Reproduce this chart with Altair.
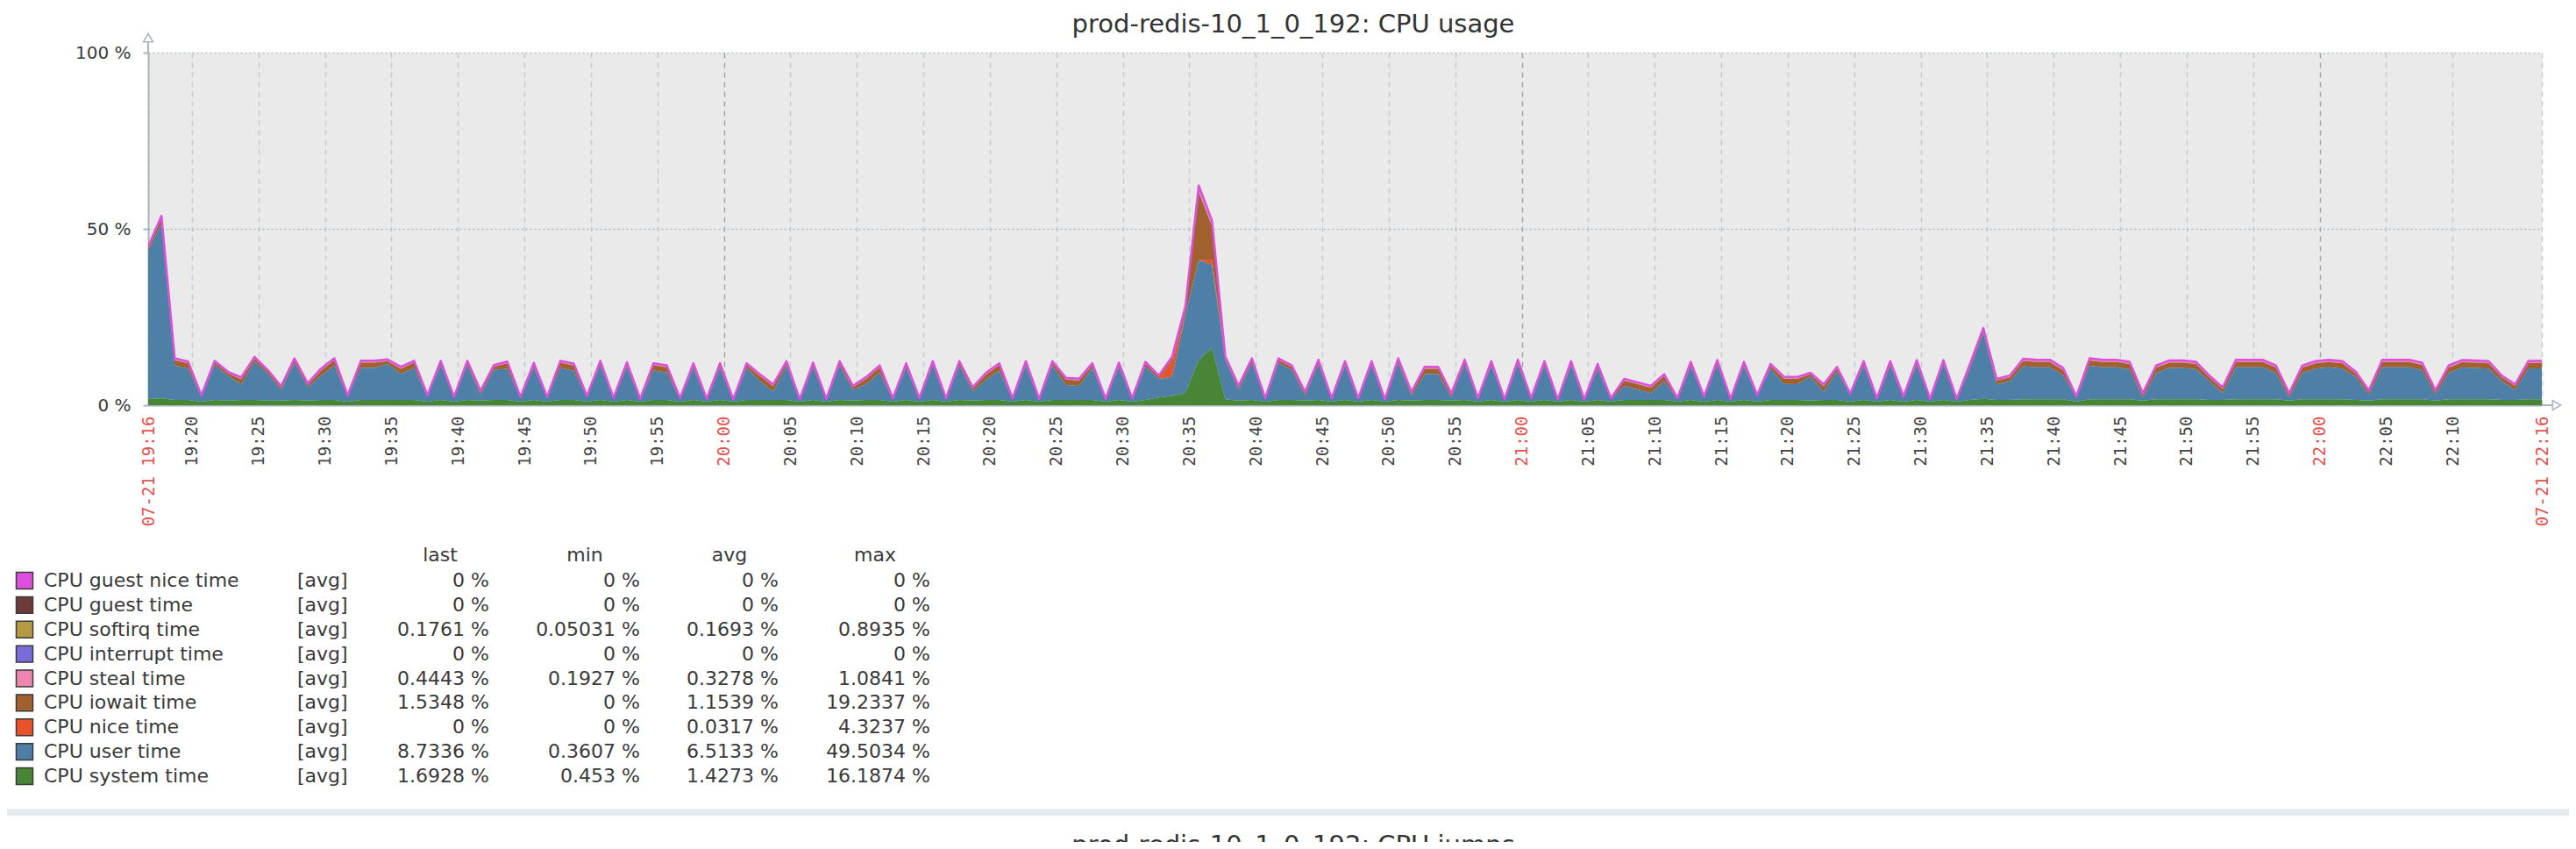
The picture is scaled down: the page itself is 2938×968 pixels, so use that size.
import altair as alt
import pandas as pd

TITLE = "prod-redis-10_1_0_192: CPU usage"
NEXT_TITLE = "prod-redis-10_1_0_192: CPU jumps"

# legend / series order as listed in the reference (top to bottom)
series_names = ["CPU guest nice time", "CPU guest time", "CPU softirq time", "CPU interrupt time",
                "CPU steal time", "CPU iowait time", "CPU nice time", "CPU user time", "CPU system time"]
series_colors = ["#DD4FDD", "#6E3A3A", "#B49A42", "#7A6BDB", "#EE86B0", "#A0612F", "#E8532B", "#4E7FA7", "#488536"]
stack_rank = [8, 7, 6, 5, 4, 3, 2, 1, 0]   # 0 = bottom of stack

legend_func = "[avg]"
legend_last = ["0 %", "0 %", "0.1761 %", "0 %", "0.4443 %", "1.5348 %", "0 %", "8.7336 %", "1.6928 %"]
legend_min = ["0 %", "0 %", "0.05031 %", "0 %", "0.1927 %", "0 %", "0 %", "0.3607 %", "0.453 %"]
legend_avg = ["0 %", "0 %", "0.1693 %", "0 %", "0.3278 %", "1.1539 %", "0.0317 %", "6.5133 %", "1.4273 %"]
legend_max = ["0 %", "0 %", "0.8935 %", "0 %", "1.0841 %", "19.2337 %", "4.3237 %", "49.5034 %", "16.1874 %"]
legend_headers = ["last", "min", "avg", "max"]

# time window: minutes after 19:00 (19:16:43 .. 22:16:43), one sample per minute
START = 16.71
END = 196.71
N = 181
sample_minutes = [START + k for k in range(N)]

y_ticks = [0, 50, 100]
x_ticks = [START] + list(range(20, 195, 5)) + [END]

system = [
    1.8, 1.9, 1.5, 1.5, 1.0, 1.5, 1.3, 1.5, 1.5, 1.3,
    1.3, 1.5, 1.3, 1.5, 1.5, 1.0, 1.5, 1.5, 1.5, 1.5,
    1.5, 1.0, 1.5, 1.0, 1.5, 1.3, 1.5, 1.5, 1.0, 1.5,
    1.0, 1.5, 1.5, 1.0, 1.5, 1.0, 1.5, 1.0, 1.5, 1.5,
    1.0, 1.5, 1.0, 1.5, 1.0, 1.5, 1.5, 1.5, 1.5, 1.0,
    1.5, 1.0, 1.5, 1.3, 1.5, 1.5, 1.0, 1.5, 1.0, 1.5,
    1.0, 1.5, 1.3, 1.5, 1.5, 1.0, 1.5, 1.0, 1.5, 1.5,
    1.5, 1.5, 1.0, 1.5, 1.0, 1.5, 2.2, 2.6, 3.5, 12.9,
    16.19, 1.7, 1.3, 1.5, 1.0, 1.5, 1.5, 1.3, 1.5, 1.0,
    1.5, 1.0, 1.5, 1.0, 1.5, 1.3, 1.5, 1.5, 1.3, 1.5,
    1.0, 1.5, 1.0, 1.5, 1.0, 1.5, 1.0, 1.5, 1.0, 1.5,
    1.0, 1.5, 1.5, 1.5, 1.5, 1.0, 1.5, 1.0, 1.5, 1.0,
    1.5, 1.0, 1.5, 1.5, 1.5, 1.3, 1.5, 1.5, 1.0, 1.5,
    1.0, 1.5, 1.0, 1.5, 1.0, 1.5, 1.0, 1.5, 1.8, 1.5,
    1.5, 1.7, 1.7, 1.7, 1.7, 1.0, 1.7, 1.7, 1.7, 1.7,
    1.3, 1.7, 1.7, 1.7, 1.7, 1.5, 1.5, 1.7, 1.7, 1.7,
    1.7, 1.3, 1.7, 1.7, 1.7, 1.7, 1.5, 1.3, 1.7, 1.7,
    1.7, 1.7, 1.3, 1.7, 1.7, 1.7, 1.7, 1.5, 1.5, 1.69,
    1.69]

user = [
    42.0, 49.5, 9.75, 8.85, 1.49, 9.8, 7.08, 4.35, 10.9, 7.58,
    2.98, 10.5, 3.78, 6.85, 9.75, 1.49, 9.05, 9.05, 10.2, 7.35,
    9.05, 1.49, 9.8, 1.09, 9.8, 1.68, 8.6, 8.85, 1.09, 9.2,
    1.09, 9.05, 8.25, 1.29, 9.8, 0.79, 9.4, 0.49, 8.35, 7.75,
    0.69, 9.1, 0.49, 9.1, 0.36, 9.1, 5.25, 2.35, 9.7, 0.36,
    9.3, 0.49, 9.7, 3.08, 4.45, 7.75, 0.69, 9.1, 0.69, 9.7,
    0.69, 9.7, 2.68, 5.65, 8.35, 0.69, 9.7, 0.49, 9.7, 4.25,
    3.95, 9.1, 0.49, 9.3, 0.69, 9.5, 5.2, 5.5, 22.1, 28.2,
    23.7, 11.1, 3.08, 10.5, 0.69, 10.5, 8.5, 1.38, 10.1, 0.69,
    9.7, 0.69, 9.7, 0.36, 10.5, 1.38, 7.35, 7.35, 0.98, 10.1,
    0.69, 9.7, 0.36, 10.1, 0.69, 9.7, 0.36, 9.7, 0.36, 8.9,
    0.69, 3.95, 2.95, 1.95, 5.25, 0.69, 9.5, 1.19, 10.0, 0.49,
    9.5, 1.59, 8.9, 4.55, 4.45, 6.78, 2.35, 8.1, 1.99, 9.7,
    0.69, 9.7, 1.19, 10.0, 0.49, 10.0, 0.49, 8.9, 18.7, 4.4,
    5.3, 9.37, 9.07, 9.07, 6.77, 1.19, 9.47, 9.07, 9.07, 8.47,
    0.88, 7.47, 8.87, 8.87, 8.47, 5.3, 2.0, 9.07, 9.07, 9.07,
    7.47, 0.88, 7.47, 8.67, 9.07, 8.67, 6.5, 1.68, 9.07, 9.07,
    9.07, 8.27, 1.68, 7.47, 8.97, 8.87, 8.67, 5.3, 2.8, 8.73,
    8.73]

nice = [0.0] * 77 + [4.32, 0.0, 0.0, 1.4] + [0.0] * 100

iowait = [
    0.6, 1.5, 1.5, 1.5, 0.05, 0.8, 0.7, 1.5, 0.8, 0.7,
    0.7, 0.8, 0.7, 1.5, 1.5, 0.05, 1.5, 1.5, 0.8, 1.5,
    1.5, 0.05, 0.8, 0.05, 0.8, 0.7, 0.8, 1.5, 0.05, 0.8,
    0.05, 1.5, 1.5, 0.05, 0.8, 0.05, 0.8, 0.05, 1.5, 1.5,
    0.05, 0.8, 0.05, 0.8, 0.05, 0.8, 1.5, 1.5, 0.8, 0.05,
    0.8, 0.05, 0.8, 0.7, 1.5, 1.5, 0.05, 0.8, 0.05, 0.8,
    0.05, 0.8, 0.7, 1.5, 1.5, 0.05, 0.8, 0.05, 0.8, 1.5,
    1.5, 0.8, 0.05, 0.8, 0.05, 0.8, 0.6, 0.8, 1.5, 19.23,
    9.5, 0.5, 0.7, 0.8, 0.05, 0.8, 0.8, 0.7, 0.8, 0.05,
    0.8, 0.05, 0.8, 0.05, 0.8, 0.7, 1.5, 1.5, 0.7, 0.8,
    0.05, 0.8, 0.05, 0.8, 0.05, 0.8, 0.05, 0.8, 0.05, 0.8,
    0.05, 1.5, 1.5, 1.5, 1.5, 0.05, 0.8, 0.05, 0.8, 0.05,
    0.8, 0.05, 0.8, 1.5, 1.5, 0.7, 1.5, 0.8, 0.05, 0.8,
    0.05, 0.8, 0.05, 0.8, 0.05, 0.8, 0.05, 0.8, 0.8, 1.1,
    1.1, 1.5, 1.5, 1.5, 1.5, 0.05, 1.5, 1.5, 1.5, 1.5,
    0.8, 1.5, 1.5, 1.5, 1.5, 1.1, 1.1, 1.5, 1.5, 1.5,
    1.5, 0.8, 1.5, 1.5, 1.5, 1.5, 1.1, 0.8, 1.5, 1.5,
    1.5, 1.5, 0.8, 1.5, 1.5, 1.5, 1.5, 1.1, 1.1, 1.53,
    1.53]

steal = [
    0.4, 0.5, 0.4, 0.4, 0.2, 0.35, 0.3, 0.4, 0.35, 0.3,
    0.3, 0.35, 0.3, 0.4, 0.4, 0.2, 0.4, 0.4, 0.35, 0.4,
    0.4, 0.2, 0.35, 0.2, 0.35, 0.3, 0.35, 0.4, 0.2, 0.35,
    0.2, 0.4, 0.4, 0.2, 0.35, 0.2, 0.35, 0.2, 0.4, 0.4,
    0.2, 0.35, 0.2, 0.35, 0.2, 0.35, 0.4, 0.4, 0.35, 0.2,
    0.35, 0.2, 0.35, 0.3, 0.4, 0.4, 0.2, 0.35, 0.2, 0.35,
    0.2, 0.35, 0.3, 0.4, 0.4, 0.2, 0.35, 0.2, 0.35, 0.4,
    0.4, 0.35, 0.2, 0.35, 0.2, 0.35, 0.3, 0.4, 0.6, 1.08,
    0.9, 0.35, 0.3, 0.35, 0.2, 0.35, 0.35, 0.3, 0.35, 0.2,
    0.35, 0.2, 0.35, 0.2, 0.35, 0.3, 0.4, 0.4, 0.3, 0.35,
    0.2, 0.35, 0.2, 0.35, 0.2, 0.35, 0.2, 0.35, 0.2, 0.35,
    0.2, 0.4, 0.4, 0.4, 0.4, 0.2, 0.35, 0.2, 0.35, 0.2,
    0.35, 0.2, 0.35, 0.4, 0.4, 0.3, 0.4, 0.35, 0.2, 0.35,
    0.2, 0.35, 0.2, 0.35, 0.2, 0.35, 0.2, 0.35, 0.4, 0.35,
    0.35, 0.45, 0.45, 0.45, 0.45, 0.2, 0.45, 0.45, 0.45, 0.45,
    0.3, 0.45, 0.45, 0.45, 0.45, 0.35, 0.35, 0.45, 0.45, 0.45,
    0.45, 0.3, 0.45, 0.45, 0.45, 0.45, 0.35, 0.3, 0.45, 0.45,
    0.45, 0.45, 0.3, 0.45, 0.45, 0.45, 0.45, 0.35, 0.35, 0.44,
    0.44]

interrupt = [0.0] * N

softirq = [
    0.2, 0.3, 0.15, 0.15, 0.06, 0.15, 0.12, 0.15, 0.15, 0.12,
    0.12, 0.15, 0.12, 0.15, 0.15, 0.06, 0.15, 0.15, 0.15, 0.15,
    0.15, 0.06, 0.15, 0.06, 0.15, 0.12, 0.15, 0.15, 0.06, 0.15,
    0.06, 0.15, 0.15, 0.06, 0.15, 0.06, 0.15, 0.06, 0.15, 0.15,
    0.06, 0.15, 0.06, 0.15, 0.06, 0.15, 0.15, 0.15, 0.15, 0.06,
    0.15, 0.06, 0.15, 0.12, 0.15, 0.15, 0.06, 0.15, 0.06, 0.15,
    0.06, 0.15, 0.12, 0.15, 0.15, 0.06, 0.15, 0.06, 0.15, 0.15,
    0.15, 0.15, 0.06, 0.15, 0.06, 0.15, 0.12, 0.15, 0.3, 0.89,
    0.6, 0.15, 0.12, 0.15, 0.06, 0.15, 0.15, 0.12, 0.15, 0.06,
    0.15, 0.06, 0.15, 0.06, 0.15, 0.12, 0.15, 0.15, 0.12, 0.15,
    0.06, 0.15, 0.06, 0.15, 0.06, 0.15, 0.06, 0.15, 0.06, 0.15,
    0.06, 0.15, 0.15, 0.15, 0.15, 0.06, 0.15, 0.06, 0.15, 0.06,
    0.15, 0.06, 0.15, 0.15, 0.15, 0.12, 0.15, 0.15, 0.06, 0.15,
    0.06, 0.15, 0.06, 0.15, 0.06, 0.15, 0.06, 0.15, 0.2, 0.15,
    0.15, 0.18, 0.18, 0.18, 0.18, 0.06, 0.18, 0.18, 0.18, 0.18,
    0.12, 0.18, 0.18, 0.18, 0.18, 0.15, 0.15, 0.18, 0.18, 0.18,
    0.18, 0.12, 0.18, 0.18, 0.18, 0.18, 0.15, 0.12, 0.18, 0.18,
    0.18, 0.18, 0.12, 0.18, 0.18, 0.18, 0.18, 0.15, 0.15, 0.18,
    0.18]

guest = [0.0] * N
guest_nice = [0.0] * N

series_values = [guest_nice, guest, softirq, interrupt, steal, iowait, nice, user, system]

# ---------- tables ----------
rows = []
for name, rank, vals in zip(series_names, stack_rank, series_values):
    for t, v in zip(sample_minutes, vals):
        rows.append({"t": t, "series": name, "rank": rank, "value": v})
long_df = pd.DataFrame(rows)

legend_df = pd.DataFrame({
    "row": list(range(len(series_names))),
    "series": series_names,
    "func": [legend_func] * len(series_names),
    "last": legend_last, "min": legend_min, "avg": legend_avg, "max": legend_max,
})

GRID = "#C5CBD0"
GRID_HOUR = "#9EA7AE"
AXIS = "#A9B4BC"
TXT = "#3A3A3A"
RED = "#E0524C"
FONT = "DejaVu Sans"

x_scale = alt.Scale(domain=[START, END], nice=False, zero=False)
y_scale = alt.Scale(domain=[0, 100], nice=False, zero=True)
color_scale = alt.Scale(domain=series_names, range=series_colors)

x_axis = alt.Axis(
    values=x_ticks,
    labelExpr=("datum.value < 17 ? '07-21 19:16' : datum.value > 196 ? '07-21 22:16' : "
               "(floor(datum.value / 60) + 19) + ':' + (round(datum.value % 60) < 10 ? '0' : '') + round(datum.value % 60)"),
    labelAngle=270, labelFont="DejaVu Sans Mono", labelFontSize=19, labelPadding=12,
    labelColor={"condition": {"test": "datum.value < 17 || datum.value > 196 || datum.value % 60 === 0",
                              "value": RED}, "value": "#444444"},
    labelOverlap=False, labelFlush=False, labelBound=False,
    ticks=False, domainColor=AXIS, domainWidth=2,
    grid=True, gridDash=[6, 5], gridWidth=1.5,
    gridColor={"condition": {"test": "datum.value % 60 === 0", "value": GRID_HOUR}, "value": GRID},
    title=None)

y_axis = alt.Axis(
    values=y_ticks, labelExpr="datum.value + ' %'", labelFont=FONT, labelFontSize=20,
    labelColor=TXT, labelPadding=14, tickSize=6, tickColor=AXIS, tickWidth=2,
    domainColor=AXIS, domainWidth=2, grid=True, gridDash=[2, 3], gridColor="#B5BCC2",
    gridWidth=1.5, title=None)

x_enc = alt.X("t:Q", scale=x_scale, axis=x_axis)

areas = alt.Chart(long_df).mark_area(interpolate="linear", clip=True).encode(
    x=x_enc,
    y=alt.Y("value:Q", stack="zero", scale=y_scale, axis=y_axis),
    color=alt.Color("series:N", scale=color_scale, legend=None),
    order=alt.Order("rank:Q", sort="ascending"),
)

top_line = alt.Chart(long_df).transform_aggregate(
    total="sum(value)", groupby=["t"]
).mark_line(color="#DD4FDD", strokeWidth=2.5, strokeJoin="round", clip=True).encode(
    x=x_enc,
    y=alt.Y("total:Q", scale=y_scale, axis=None),
)

corner_df = pd.DataFrame({"t": [START, END], "v": [100, 0]})
y_arrow_rule = alt.Chart(corner_df.iloc[[0]]).mark_rule(color=AXIS, strokeWidth=2, y2Offset=-12).encode(
    x=x_enc, y=alt.Y("v:Q", scale=y_scale, axis=None), y2="v:Q")
y_arrow = alt.Chart(corner_df.iloc[[0]]).mark_point(
    shape="triangle-up", size=120, filled=True, fill="white", stroke=AXIS, strokeWidth=1.5,
    yOffset=-17, opacity=1).encode(x=x_enc, y=alt.Y("v:Q", scale=y_scale, axis=None))
x_arrow_rule = alt.Chart(corner_df.iloc[[1]]).mark_rule(color=AXIS, strokeWidth=2, x2Offset=12).encode(
    x=x_enc, x2="t:Q", y=alt.Y("v:Q", scale=y_scale, axis=None))
x_arrow = alt.Chart(corner_df.iloc[[1]]).mark_point(
    shape="triangle-right", size=120, filled=True, fill="white", stroke=AXIS, strokeWidth=1.5,
    xOffset=17, opacity=1).encode(x=x_enc, y=alt.Y("v:Q", scale=y_scale, axis=None))

title_df = pd.DataFrame({"label": [TITLE]})
title_mark = alt.Chart(title_df).mark_text(
    font=FONT, fontSize=29, color="#333333", align="center", baseline="middle").encode(
    x=alt.value(1306), y=alt.value(-32), text="label:N")

# legend table
row_y = alt.Y("row:O", scale=alt.Scale(type="point", range=[602, 825], padding=0), axis=None)
swatch = alt.Chart(legend_df).mark_square(size=360, opacity=1, stroke="#3A3A3A", strokeWidth=1.5).encode(
    x=alt.value(-141), y=row_y, color=alt.Color("series:N", scale=color_scale, legend=None))


def col_text(field, xpos, align):
    return alt.Chart(legend_df).mark_text(
        font=FONT, fontSize=22, color=TXT, align=align, baseline="middle").encode(
        x=alt.value(xpos), y=row_y, text=f"{field}:N")


name_t = col_text("series", -119, "left")
func_t = col_text("func", 170, "left")
last_t = col_text("last", 389, "right")
min_t = col_text("min", 561, "right")
avg_t = col_text("avg", 719, "right")
max_t = col_text("max", 892, "right")

header_x = [333, 498, 663, 829]
headers = [
    alt.Chart(pd.DataFrame({"h": [h]})).mark_text(
        font=FONT, fontSize=22, color=TXT, align="center", baseline="middle").encode(
        x=alt.value(hx), y=alt.value(573), text="h:N")
    for h, hx in zip(legend_headers, header_x)
]

band = alt.Chart(pd.DataFrame({"b": [1]})).mark_rect(color="#E8ECEF").encode(
    x=alt.value(-161), x2=alt.value(2761), y=alt.value(862), y2=alt.value(870))
next_title = alt.Chart(pd.DataFrame({"label": [NEXT_TITLE]})).mark_text(
    font=FONT, fontSize=29, color="#333333", align="center", baseline="top").encode(
    x=alt.value(1306), y=alt.value(890), text="label:N")

chart = alt.layer(
    areas, top_line, y_arrow_rule, y_arrow, x_arrow_rule, x_arrow, title_mark,
    swatch, name_t, func_t, last_t, min_t, avg_t, max_t, *headers, band, next_title
).resolve_scale(y="independent").properties(
    width=2730, height=402,
    autosize=alt.AutoSizeParams(type="none"),
    padding={"left": 161, "top": 52, "right": 31, "bottom": 498},
    background="white",
).configure_view(fill="#EAEAEA", stroke="transparent")

chart.save("out.html", embed_options={"renderer": "svg", "actions": False})
